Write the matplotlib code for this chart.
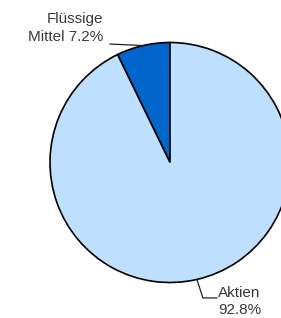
import numpy as np
import matplotlib.pyplot as plt

# ------ data ------
labels = ['Flüssige\nMittel', 'Aktien']
shares = [7.2, 92.8]
colors = ['#0066CC', '#BFDFFF']

# ------ plot ------
W, H = 281, 318
fig = plt.figure(figsize=(W / 100, H / 100), dpi=100)
ax = fig.add_axes([0, 0, 1, 1])

cx, cy, r = 170, H - 162.5, 120
wedges, _ = ax.pie(shares, colors=colors, startangle=90, counterclock=True,
                   center=(cx, cy), radius=r, frame=True,
                   wedgeprops=dict(edgecolor='black', linewidth=1.2))
ax.set_xlim(0, W)
ax.set_ylim(0, H)
ax.axis('off')

plt.rcParams['font.family'] = 'Liberation Sans'
txt_color = '#3a3a3a'

# label anchors at middle of each wedge
for w, lab, val in zip(wedges, labels, shares):
    ang = np.deg2rad((w.theta1 + w.theta2) / 2)
    ex, ey = cx + r * np.cos(ang), cy + r * np.sin(ang)
    if np.cos(ang) < 0:
        # leader to the left, text right aligned
        ax.plot([ex, 110], [ey, ey + 1.5], color='#222222', lw=0.9)
        ax.text(103, ey + 2, f'{lab} {val:.1f}%', ha='right', va='bottom',
                fontsize=11, color=txt_color, linespacing=1.3)
    else:
        # leader down and to the right, text left aligned
        ax.plot([ex, ex + 6, ex + 20], [ey, ey - 18.5, ey - 18.5], color='#222222', lw=0.9)
        ax.text(ex + 21, ey - 7, f'{lab}\n{val:.1f}%', ha='left', va='top',
                fontsize=11, color=txt_color, linespacing=1.2)

fig.savefig('out.png', dpi=100)
